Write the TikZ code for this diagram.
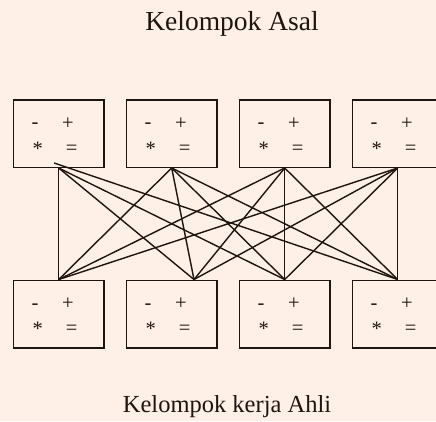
\documentclass[tikz,border=0pt]{standalone}
\usepackage{fontspec}
\setmainfont{Liberation Serif}
\definecolor{paper}{HTML}{FEF0E6}
\definecolor{ink}{HTML}{1E1410}
\begin{document}
\begin{tikzpicture}[x=1pt,y=-1pt,
  grp/.style={draw=ink, line width=1.5pt, minimum width=90.5pt, minimum height=67.5pt,
              anchor=north west, inner sep=0pt},
  sym/.style={anchor=base, inner sep=0pt, text=ink, font=\fontsize{20.5}{21}\selectfont},
  link/.style={draw=ink, line width=1.4pt},
  heading/.style={anchor=base, inner sep=0pt, text=ink}]
% page and background
\fill[paper] (0,0) rectangle (436,421);
\useasboundingbox (0,0) rectangle (436,421);

% titles
\node[heading, font=\fontsize{27.5}{33}\selectfont] (asal) at (232,30) {Kelompok Asal};
\node[heading, font=\fontsize{24.5}{30}\selectfont] (ahli) at (227,412) {Kelompok kerja Ahli};

% home groups (top) and expert groups (bottom), each with its four symbols
\foreach \i/\x in {1/12.7,2/125.7,3/238.7,4/351.7} {
  \node[grp] (top\i) at (\x,99) {};
  \node[sym] (top\i m) at (\x+22.3,128.5) {-};
  \node[sym] (top\i p) at (\x+55.3,129) {+};
  \node[sym] (top\i s) at (\x+25,155) {*};
  \node[sym] (top\i e) at (\x+59,154) {=};
  \node[grp] (bot\i) at (\x,279.5) {};
  \node[sym] (bot\i m) at (\x+22.3,309) {-};
  \node[sym] (bot\i p) at (\x+55.3,309.5) {+};
  \node[sym] (bot\i s) at (\x+25,335.5) {*};
  \node[sym] (bot\i e) at (\x+59,334.5) {=};
}

% meeting points of the connectors
\coordinate (t1) at (top1.south);
\coordinate (t1x) at ([xshift=-4.6pt,yshift=5pt]top1.south);
\coordinate (t2) at (top2.south);
\coordinate (t3) at (top3.south);
\coordinate (t4) at (top4.south);
\coordinate (b1) at (bot1.north);
\coordinate (b2) at ([xshift=22.3pt]bot2.north);
\coordinate (b3) at (bot3.north);
\coordinate (b4) at (bot4.north);

% every home group sends a member to every expert group
\foreach \a/\b in {t1/b1,t1/b2,t1/b3,t1x/b4,
                   t2/b1,t2/b2,t2/b3,t2/b4,
                   t3/b1,t3/b2,t3/b3,t3/b4,
                   t4/b1,t4/b2,t4/b3,t4/b4}
  \draw[link] (\a) -- (\b);
\end{tikzpicture}
\end{document}
